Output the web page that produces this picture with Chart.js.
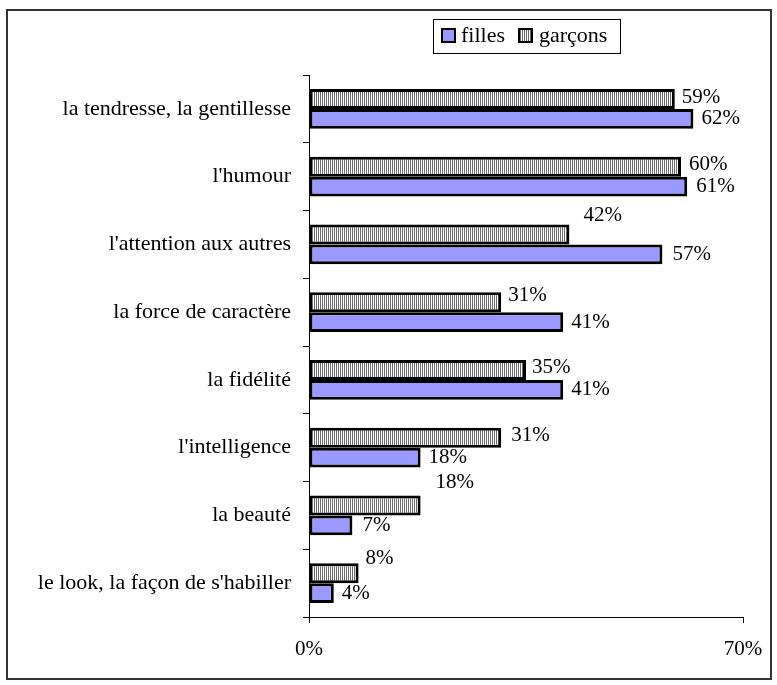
<!DOCTYPE html>
<html>
<head>
<meta charset="utf-8">
<script src="https://cdn.jsdelivr.net/npm/chart.js@4.4.0/dist/chart.umd.min.js"></script>
<style>
  html, body { margin: 0; padding: 0; background: #ffffff; }
  canvas { display: block; }
</style>
</head>
<body>
<canvas id="c" width="777" height="685"></canvas>
<script>
const categories = [
  "la tendresse, la gentillesse",
  "l'humour",
  "l'attention aux autres",
  "la force de caractère",
  "la fidélité",
  "l'intelligence",
  "la beauté",
  "le look, la façon de s'habiller"
];
const garconsValues = [59, 60, 42, 31, 35, 31, 18, 8];
const fillesValues  = [62, 61, 57, 41, 41, 18, 7, 4];
const xTickValues = [0, 70];
const seriesNames = { filles: "filles", garcons: "garçons" };

const FONT = "'Liberation Serif', 'Times New Roman', serif";
Chart.defaults.font.family = FONT;
Chart.defaults.color = '#000';

function makeStripePattern() {
  const p = document.createElement('canvas');
  p.width = 2; p.height = 2;
  const g = p.getContext('2d');
  g.fillStyle = '#ffffff'; g.fillRect(0, 0, 2, 2);
  g.fillStyle = '#6a6a6a'; g.fillRect(0, 0, 1, 2);
  return document.getElementById('c').getContext('2d').createPattern(p, 'repeat');
}
const stripe = makeStripePattern();
const fillesColor = '#9999ff';

const frameAndLegend = {
  id: 'frameAndLegend',
  beforeDraw(chart) {
    const ctx = chart.ctx;
    ctx.save();
    ctx.fillStyle = '#fff';
    ctx.fillRect(0, 0, chart.width, chart.height);
    ctx.restore();
  },
  afterDraw(chart) {
    const ctx = chart.ctx;
    ctx.save();
    ctx.strokeStyle = '#333';
    ctx.lineWidth = 2;
    ctx.strokeRect(7, 10, 764, 669);
    ctx.lineWidth = 1;
    ctx.strokeStyle = '#000';
    ctx.strokeRect(433.5, 19.5, 187, 34);
    const items = [
      { label: seriesNames.filles, fill: fillesColor, sx: 442, tx: 461 },
      { label: seriesNames.garcons, fill: stripe, sx: 519, tx: 539 }
    ];
    ctx.font = "22px " + FONT;
    ctx.textBaseline = 'middle';
    ctx.textAlign = 'left';
    items.forEach(it => {
      ctx.fillStyle = it.fill;
      ctx.fillRect(it.sx, 29, 13, 13);
      ctx.lineWidth = 2;
      ctx.strokeStyle = '#000';
      ctx.strokeRect(it.sx, 29, 13, 13);
      ctx.fillStyle = '#000';
      ctx.fillText(it.label, it.tx, 36);
    });
    ctx.restore();
  }
};

const valueLabels = {
  id: 'valueLabels',
  afterDatasetsDraw(chart, args, opts) {
    const ctx = chart.ctx;
    ctx.save();
    ctx.font = "21px " + FONT;
    ctx.fillStyle = '#000';
    ctx.textBaseline = 'middle';
    ctx.textAlign = 'left';
    chart.data.datasets.forEach((ds, di) => {
      const meta = chart.getDatasetMeta(di);
      const offs = opts.offsets[di];
      meta.data.forEach((bar, i) => {
        const o = offs[i] || [8, 0];
        ctx.fillText(ds.data[i] + '%', bar.x + o[0], bar.y + o[1]);
      });
    });
    ctx.restore();
  }
};

new Chart(document.getElementById('c'), {
  type: 'bar',
  data: {
    labels: categories,
    datasets: [
      {
        label: seriesNames.garcons,
        data: garconsValues,
        backgroundColor: stripe,
        borderColor: '#000',
        borderWidth: 3,
        borderSkipped: false,
        categoryPercentage: 0.59,
        barPercentage: 1.0
      },
      {
        label: seriesNames.filles,
        data: fillesValues,
        backgroundColor: fillesColor,
        borderColor: '#000',
        borderWidth: 3,
        borderSkipped: false,
        categoryPercentage: 0.59,
        barPercentage: 1.0
      }
    ]
  },
  options: {
    indexAxis: 'y',
    responsive: false,
    animation: false,
    layout: { padding: { top: 75, right: 34, left: 0, bottom: 0 } },
    plugins: {
      legend: { display: false },
      tooltip: { enabled: false },
      valueLabels: {
        offsets: [
          [[7, -1], [8, -2], [14, -19], [7, -7], [6, -2], [10, -2], [15, -23], [7, -15]],
          [[8, 0], [9, 0], [10, 0], [8, 0], [8, 0], [8, 0], [10, 0], [8, 0]]
        ]
      }
    },
    scales: {
      x: {
        type: 'linear',
        min: 0,
        max: 70,
        afterBuildTicks(scale) { scale.ticks = xTickValues.map(v => ({ value: v })); },
        afterFit(scale) { scale.height = 68; },
        ticks: {
          callback: v => v + '%',
          font: { size: 21 },
          color: '#000',
          padding: 14,
          maxRotation: 0
        },
        grid: { drawOnChartArea: false, drawTicks: true, tickLength: 6, color: '#000' },
        border: { display: true, color: '#000', width: 1 }
      },
      y: {
        afterFit(scale) { scale.width = 309; },
        ticks: {
          font: { size: 22 },
          color: '#000',
          padding: 12
        },
        grid: { drawOnChartArea: false, drawTicks: true, tickLength: 6, color: '#000', offset: true },
        border: { display: true, color: '#000', width: 1 }
      }
    }
  },
  plugins: [frameAndLegend, valueLabels]
});
</script>
</body>
</html>
